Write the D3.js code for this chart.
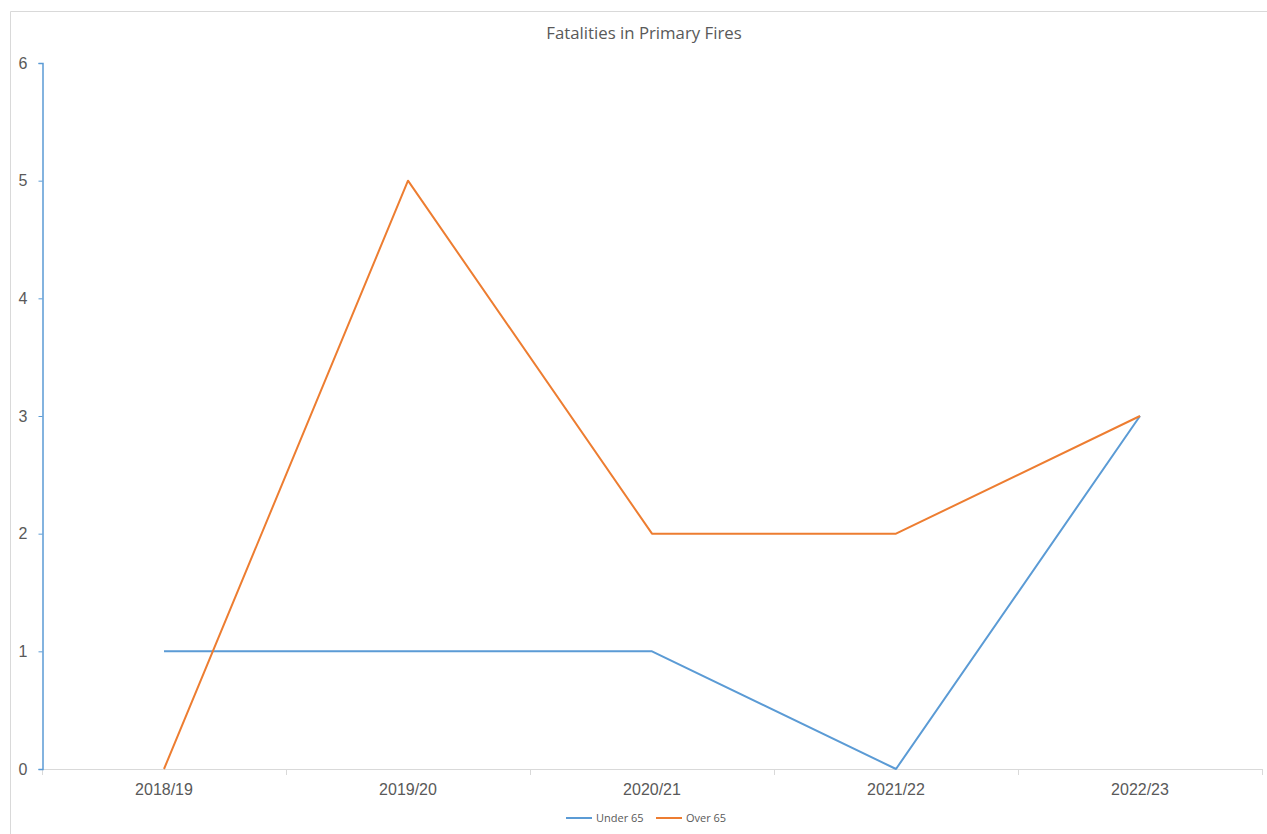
<!DOCTYPE html>
<html>
<head>
<meta charset="utf-8">
<script src="https://cdn.jsdelivr.net/npm/d3@7"></script>
<style>
  html, body { margin: 0; padding: 0; background: #fff; }
  svg { display: block; }
</style>
</head>
<body>
<div id="chart"></div>
<script>
// Data
const categories = ['2018/19', '2019/20', '2020/21', '2021/22', '2022/23'];
const under65 = [1, 1, 1, 0, 3];
const over65 = [0, 5, 2, 2, 3];
const yTicks = [0, 1, 2, 3, 4, 5, 6];
const seriesNames = ['Under 65', 'Over 65'];
const seriesColors = ['#5B9BD5', '#ED7D31'];

const width = 1267, height = 834;
const plot = { left: 42, right: 1262, top: 63, bottom: 769 };

const svg = d3.select('#chart').append('svg')
  .attr('width', width)
  .attr('height', height);

// chart frame
svg.append('path')
  .attr('d', `M10.5,${height + 2} V11.5 H${width + 2}`)
  .attr('fill', 'none')
  .attr('stroke', '#d9d9d9')
  .attr('stroke-width', 1);

// scales
const x = d3.scaleBand().domain(categories).range([plot.left, plot.right]);
const y = d3.scaleLinear().domain([0, 6]).range([plot.bottom, plot.top]);

// title
svg.append('text')
  .attr('x', 644)
  .attr('y', 39)
  .attr('text-anchor', 'middle')
  .attr('font-family', 'Open Sans, sans-serif')
  .attr('font-size', 16.8)
  .attr('fill', '#595959')
  .text('Fatalities in Primary Fires');

// x axis: line plus boundary ticks
const xg = svg.append('g');
xg.append('line')
  .attr('x1', plot.left).attr('x2', plot.right)
  .attr('y1', plot.bottom + 0.5).attr('y2', plot.bottom + 0.5)
  .attr('stroke', '#d9d9d9');
const bounds = categories.map(c => x(c)).concat([plot.right]);
xg.selectAll('line.tick')
  .data(bounds)
  .join('line')
  .attr('class', 'tick')
  .attr('x1', d => Math.round(d) + 0.5).attr('x2', d => Math.round(d) + 0.5)
  .attr('y1', plot.bottom).attr('y2', plot.bottom + 6)
  .attr('stroke', '#d9d9d9');
xg.selectAll('text')
  .data(categories)
  .join('text')
  .attr('x', d => x(d) + x.bandwidth() / 2)
  .attr('y', plot.bottom + 26)
  .attr('text-anchor', 'middle')
  .attr('font-family', 'Liberation Sans, Arial, sans-serif')
  .attr('font-size', 16)
  .attr('fill', '#595959')
  .text(d => d);

// y axis
const yAxis = d3.axisLeft(y)
  .tickValues(yTicks)
  .tickSize(4)
  .tickPadding(11)
  .tickFormat(d3.format('d'));
const yg = svg.append('g')
  .attr('transform', `translate(${plot.left + 0.5},0)`)
  .call(yAxis);
yg.select('.domain').attr('stroke', '#5B9BD5').attr('stroke-width', 1.5);
yg.selectAll('.tick line').attr('stroke', '#5B9BD5');
yg.selectAll('.tick text')
  .attr('font-family', 'Liberation Sans, Arial, sans-serif')
  .attr('font-size', 16)
  .attr('fill', '#595959');

// lines
const series = [under65, over65];
const line = d3.line()
  .x((d, i) => x(categories[i]) + x.bandwidth() / 2)
  .y(d => y(d));

svg.append('g')
  .selectAll('path')
  .data(series)
  .join('path')
  .attr('d', d => line(d))
  .attr('fill', 'none')
  .attr('stroke', (d, i) => seriesColors[i])
  .attr('stroke-width', 2)
  .attr('stroke-linejoin', 'round');

// legend
const legendX = [566, 656];
const lg = svg.append('g');
seriesNames.forEach((name, i) => {
  lg.append('line')
    .attr('x1', legendX[i]).attr('x2', legendX[i] + 26)
    .attr('y1', 818).attr('y2', 818)
    .attr('stroke', seriesColors[i])
    .attr('stroke-width', 2);
  lg.append('text')
    .attr('x', legendX[i] + 30)
    .attr('y', 822)
    .attr('font-family', 'Open Sans, sans-serif')
    .attr('font-size', 11)
    .attr('fill', '#595959')
    .text(name);
});
</script>
</body>
</html>
